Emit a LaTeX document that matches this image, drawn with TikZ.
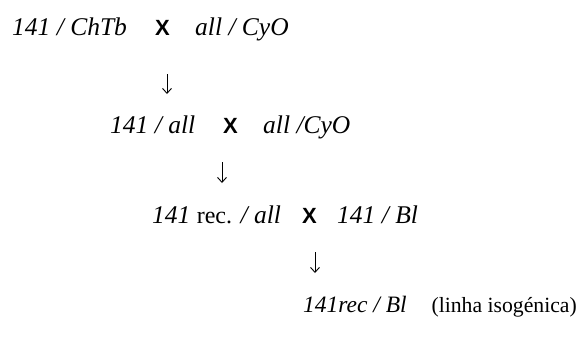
\documentclass[tikz,border=0pt]{standalone}
\usepackage{fontspec}
\setmainfont{Liberation Serif}
\newfontfamily\crossfont{Liberation Sans}
\usetikzlibrary{arrows.meta}
\begin{document}
\begin{tikzpicture}[x=1pt,y=-1pt,
  txt/.style={anchor=base west,inner sep=0pt,font=\itshape\fontsize{25.5}{28}\selectfont},
  rtxt/.style={anchor=base west,inner sep=0pt,font=\fontsize{22}{26}\selectfont},
  cross/.style={anchor=base west,inner sep=0pt,font=\crossfont\bfseries\fontsize{22}{26}\selectfont},
  arr/.style={line width=0.9pt,-{Straight Barb[length=5pt,width=9pt,line width=0.9pt]}}]
\useasboundingbox (0,0) rectangle (578,338);
% line 1
\node[txt] (a1) at (12,35) {141 / ChTb};
\node[cross] (x1) at (155,35) {X};
\node[txt] (b1) at (195,35) {all / CyO};
\coordinate (s1) at (167,74);
\coordinate (e1) at (167,94);
\draw[arr] (s1) -- (e1);
% line 2
\node[txt] (a2) at (110,133) {141 / all};
\node[cross] (x2) at (223,133) {X};
\node[txt] (b2) at (263,133) {all /CyO};
\coordinate (s2) at (222,162);
\coordinate (e2) at (222,183);
\draw[arr] (s2) -- (e2);
% line 3
\node[txt] (a3) at (152,223) {141 {\upshape\fontsize{24}{28}\selectfont rec.} / all};
\node[cross] (x3) at (302,223) {X};
\node[txt] (b3) at (337,223) {141 / Bl};
\coordinate (s3) at (315,252);
\coordinate (e3) at (315,273);
\draw[arr] (s3) -- (e3);
% line 4
\node[txt,font=\itshape\fontsize{23.5}{28}\selectfont] (a4) at (303,312) {141rec / Bl};
\node[rtxt,font=\fontsize{21.7}{26}\selectfont,anchor=base east] (c4) at (577,312) {(linha isogénica)};
\end{tikzpicture}
\end{document}
